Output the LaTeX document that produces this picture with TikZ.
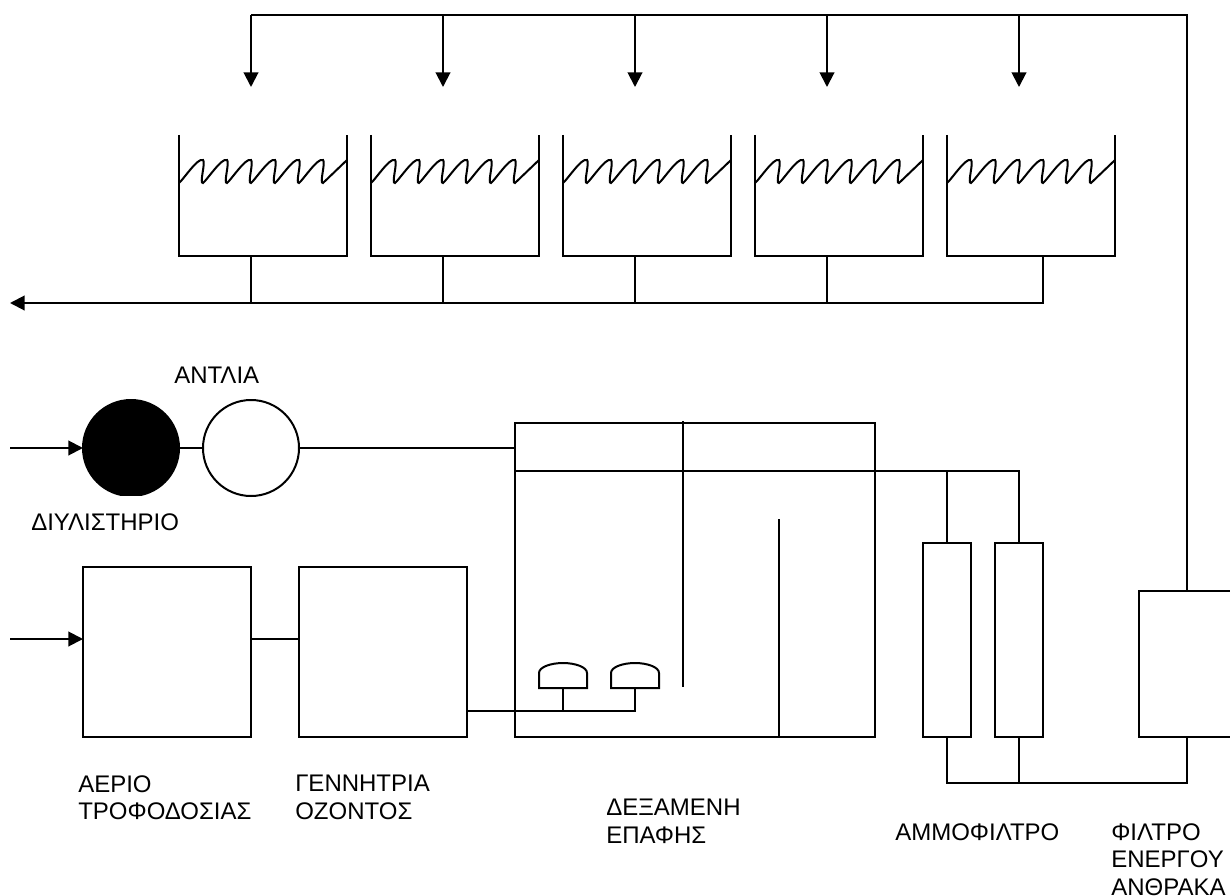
\documentclass[tikz,border=0pt]{standalone}
\usepackage{fontspec}
\setmainfont{Liberation Sans}
\usetikzlibrary{arrows.meta}
\tikzset{
  pipe/.style={line width=1.5pt,line join=miter},
  flow/.style={pipe,-{Triangle[length=11pt,width=11pt]}},
  unit/.style={rectangle,draw,line width=1.5pt,outer sep=0pt,inner sep=0pt},
  pumpc/.style={circle,draw,line width=1.5pt,outer sep=0pt,inner sep=0pt,minimum size=72pt},
  tag/.style={anchor=north west,inner sep=0pt,align=left,
              font=\fontsize{18pt}{20.8pt}\selectfont},
}
\begin{document}
\begin{tikzpicture}[x=.75pt,y=-.75pt]
  \useasboundingbox (0,0) rectangle (1230,895);
  \begin{scope}
    \clip (70,390) rectangle (190,495);
    \node[pumpc,fill=black] (refinery) at (131,448){};
  \end{scope}
  \node[pumpc] (pump) at (251,448){};
  \node[unit,minimum width=126pt,minimum height=127.5pt] (feed) at (167,652){};
  \node[unit,minimum width=126pt,minimum height=127.5pt] (ozone) at (383,652){};
  \node[unit,minimum width=270pt,minimum height=235.5pt] (contact) at (695,580){};
  \node[unit,minimum width=36pt,minimum height=145.5pt] (sandA) at (947,640){};
  \node[unit,minimum width=36pt,minimum height=145.5pt] (sandB) at (1019,640){};
  \node[unit,minimum width=76pt,minimum height=109.5pt] (carbon) at (1189.5,664){};

  \foreach \i/\x in {1/179,2/371,3/563,4/755,5/947}{
    \draw[pipe] (\x,135) -- (\x,256) -- ({\x+168},256) -- ({\x+168},135);
    \draw[pipe] (\x,183) foreach \k in {0,...,5}{
        .. controls ({\x+24*\k+4},180) and ({\x+24*\k+19},157) .. ({\x+24*\k+24},160)
        .. controls ({\x+24*\k+27},162) and ({\x+24*\k+20},184) .. ({\x+24*\k+24},183)
      } -- ({\x+168},160);
    \coordinate (basin\i) at ({\x+72},256);
    \coordinate (spray\i) at ({\x+72},87);
  }
  \coordinate (basin5) at (1043,256);

  \coordinate (outlet) at (10,303);
  \coordinate (backwash) at (1187,15);
  \draw[flow] (basin5) |- (outlet);
  \foreach \i in {1,...,4}{\draw[pipe] (basin\i) -- (basin\i |- outlet);}
  \draw[pipe] (carbon.north -| backwash) -- (backwash) -- (spray1 |- backwash);
  \foreach \i in {1,...,5}{\draw[flow] (spray\i |- backwash) -- (spray\i);}

  \coordinate (rawin) at (10,448);
  \coordinate (gasin) at (10,639);
  \draw[flow] (rawin) -- (refinery.west);
  \draw[pipe] (refinery.east) -- (pump.west);
  \draw[pipe] (pump.east) -- (contact.west |- pump.east);
  \draw[flow] (gasin) -- (gasin -| feed.west);
  \draw[pipe] (gasin -| feed.east) -- (gasin -| ozone.west);

  \coordinate (weir) at (0,471);
  \coordinate (baffleA) at (683,421);
  \coordinate (baffleB) at (779,519);
  \draw[pipe] (weir -| contact.west) -- (weir -| sandB.north) -- (sandB.north);
  \draw[pipe] (weir -| sandA.north) -- (sandA.north);
  \draw[pipe] (baffleA) -- ++(0,266);
  \draw[pipe] (baffleB) -- (baffleB |- contact.south);

  \foreach \i/\x in {1/563,2/635}{
    \draw[pipe] ({\x-24},688) -- ({\x-24},673) .. controls ({\x-24},667) and ({\x-12},663) .. (\x,663)
      .. controls ({\x+12},663) and ({\x+24},667) .. ({\x+24},673) -- ({\x+24},688) -- cycle;
    \coordinate (dome\i) at (\x,688);
  }
  \coordinate (airline) at (0,711);
  \draw[pipe] (airline -| ozone.east) -- (airline -| dome2) -- (dome2);
  \draw[pipe] (dome1) -- (airline -| dome1);

  \coordinate (drain) at (0,783);
  \draw[pipe] (sandA.south) -- (drain -| sandA.south) -- (drain -| backwash) -- (carbon.south -| backwash);
  \draw[pipe] (sandB.south) -- (drain -| sandB.south);

  \node[tag] (tpump) at (174,367){ΑΝΤΛΙΑ};
  \node[tag] (trefinery) at (31,513){ΔΙΥΛΙΣΤΗΡΙΟ};
  \node[tag] (tfeed) at (78,775){ΑΕΡΙΟ\\ΤΡΟΦΟΔΟΣΙΑΣ};
  \node[tag] (tozone) at (295,775){ΓΕΝΝΗΤΡΙΑ\\ΟΖΟΝΤΟΣ};
  \node[tag] (tcontact) at (606,799){ΔΕΞΑΜΕΝΗ\\ΕΠΑΦΗΣ};
  \node[tag] (tsand) at (895,823){ΑΜΜΟΦΙΛΤΡΟ};
  \node[tag] (tcarbon) at (1111,823){ΦΙΛΤΡΟ\\ΕΝΕΡΓΟΥ\\ΑΝΘΡΑΚΑ};
\end{tikzpicture}
\end{document}
